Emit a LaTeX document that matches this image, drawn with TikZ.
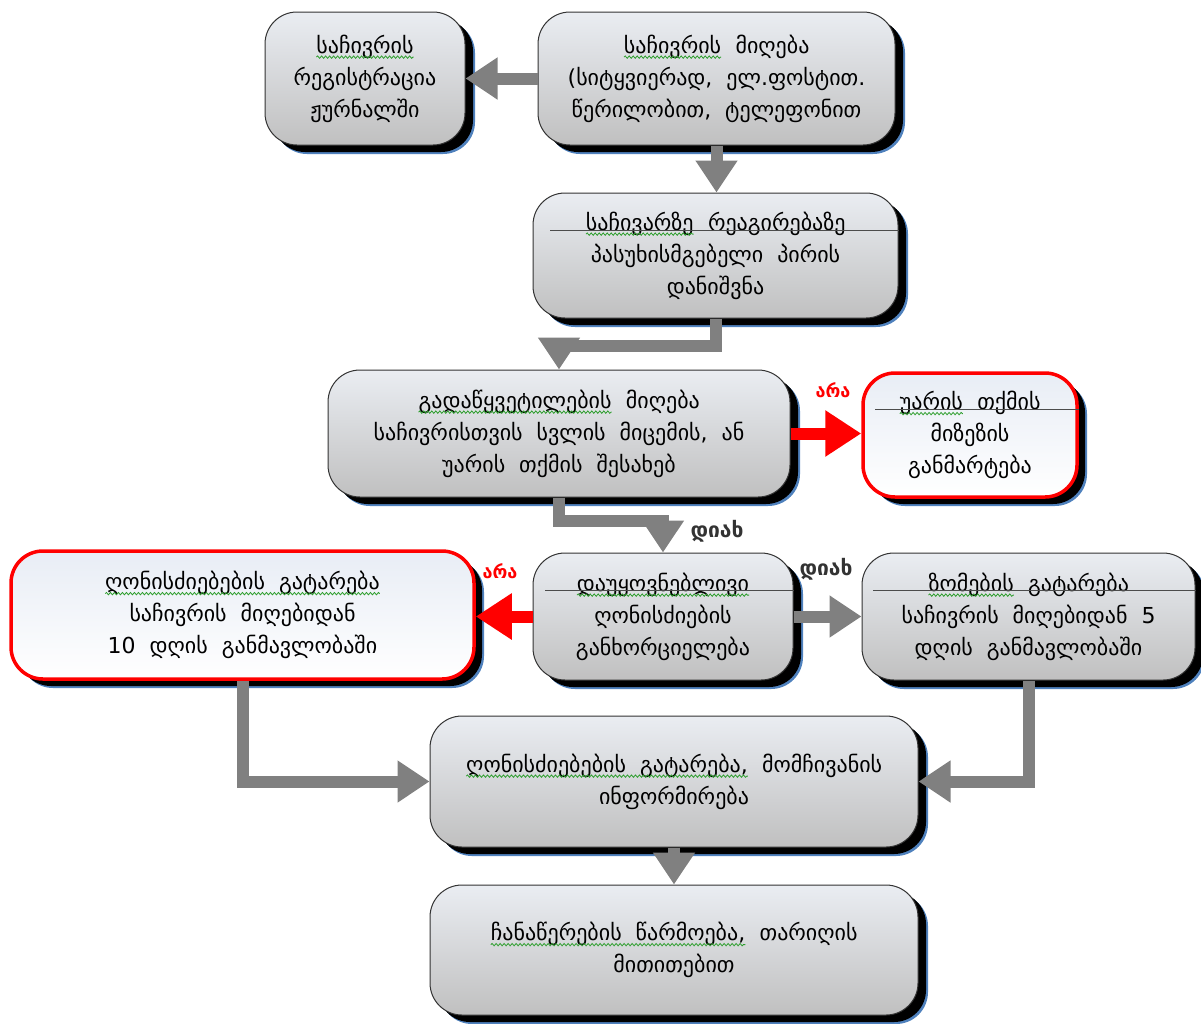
\documentclass[tikz,border=0pt]{standalone}
\usepackage{fontspec}
\setmainfont{DejaVu Sans}
\usetikzlibrary{arrows.meta,shadows,decorations.pathmorphing}
\definecolor{arrgray}{HTML}{808080}
\definecolor{shblue}{HTML}{4F81BD}
\definecolor{spellgreen}{HTML}{2E9E2E}
\newcommand\gw[1]{\tikz[baseline=(gwt.base)]{\node[inner sep=0pt, outer sep=0pt, minimum width=0pt, minimum height=0pt, draw=none, fill=none, rectangle, rounded corners=0pt] (gwt) {#1};
  \draw[spellgreen, line width=0.8pt, rounded corners=0pt, decorate, decoration={snake, amplitude=1.2pt, segment length=4pt}] ([yshift=-4pt]gwt.base west) -- ([yshift=-4pt]gwt.base east);}}
\tikzset{
  base/.style={rounded corners=32pt, align=center, inner sep=0pt,
    font=\fontsize{22}{32}\selectfont,
    drop shadow={shadow xshift=10pt, shadow yshift=-9pt, fill=shblue, opacity=1},
    drop shadow={shadow xshift=8pt, shadow yshift=-7pt, fill=black, opacity=1}},
  graybox/.style={base, draw=black!80, line width=1pt, top color={rgb,255:red,234;green,237;blue,242}, bottom color={rgb,255:red,192;green,192;blue,192}},
  redbox/.style={base, draw=red, line width=3.5pt, top color={rgb,255:red,232;green,237;blue,245}, bottom color=white},
  garrow/.style={draw=arrgray, line width=12pt, -{Triangle[length=32pt,width=40pt]}},
  rarrow/.style={draw=red, line width=12pt, -{Triangle[length=36pt,width=44pt]}},
  strike/.style={draw=black!70, line width=1pt},
  nolab/.style={text=red, font=\fontsize{18}{20}\selectfont\bfseries, inner sep=0pt},
  yeslab/.style={text=black!80, font=\fontsize{21}{23}\selectfont\bfseries, inner sep=0pt}
}
\begin{document}
\begin{tikzpicture}[x=1pt,y=-1pt]
\useasboundingbox (0,0) rectangle (1201,1023);

\node[graybox, minimum width=200pt, minimum height=133pt] (reg) at (365,78.5)
  {\gw{საჩივრის}\\რეგისტრაცია\\ჟურნალში};
\node[graybox, minimum width=357pt, minimum height=133pt] (rec) at (716.5,78.5)
  {\gw{საჩივრის}~~მიღება\\(სიტყვიერად,~~ელ.ფოსტით.\\წერილობით,~~ტელეფონით};
\node[graybox, minimum width=365pt, minimum height=125pt] (asg) at (715.5,255.5)
  {\gw{საჩივარზე}~~რეაგირებაზე\\პასუხისმგებელი~~პირის\\დანიშვნა};
\node[graybox, minimum width=462pt, minimum height=127pt] (dec) at (559,433.5)
  {\gw{გადაწყვეტილების}~~მიღება\\საჩივრისთვის~~სვლის~~მიცემის,~~ან\\უარის~~თქმის~~შესახებ};
\node[redbox, minimum width=214pt, minimum height=124pt] (ref) at (970,435)
  {\gw{უარის}~~თქმის\\მიზეზის\\განმარტება};
\node[graybox, minimum width=260pt, minimum height=127pt] (imm) at (663,616.5)
  {\gw{დაუყოვნებლივი}\\ღონისძიების\\განხორციელება};
\node[redbox, minimum width=463pt, minimum height=128pt] (ten) at (242.5,615)
  {\gw{ღონისძიებების~~გატარება}\\საჩივრის~~მიღებიდან\\10~~დღის~~განმავლობაში};
\node[graybox, minimum width=333pt, minimum height=127pt] (five) at (1028.5,616.5)
  {\gw{ზომების}~~გატარება\\საჩივრის~~მიღებიდან~~5\\დღის~~განმავლობაში};
\node[graybox, minimum width=488pt, minimum height=131pt] (inf) at (674,781.5)
  {\gw{ღონისძიებების~~გატარება,}~~მომჩივანის\\ინფორმირება};
\node[graybox, minimum width=488pt, minimum height=130pt] (rcd) at (674,950)
  {\gw{ჩანაწერების~~წარმოება,}~~თარიღის\\მითითებით};

% strike-like lines across some boxes
\draw[strike] (550,230) -- (asg.east |- 0,230);
\draw[strike] (875,409) -- (ref.east |- 0,409);
\draw[strike] (545,590) -- (imm.east |- 0,590);
\draw[strike] (873,590) -- (five.east |- 0,590);

% connectors
\draw[garrow] (rec.west) -- (reg.east);
\draw[garrow] (rec.south) -- (rec.south |- asg.north);
\draw[garrow] (asg.south) -- ++(0,27) -| (dec.north);
\draw[garrow] (dec.south) -- ++(0,23) -| (imm.north);
\draw[rarrow] (dec.east) -- (dec.east -| ref.west);
\draw[rarrow] (imm.west) -- (imm.west -| ten.east);
\draw[garrow] (imm.east) -- (imm.east -| five.west);
\draw[garrow] (ten.south) |- (inf.west);
\draw[garrow] (five.south) |- (inf.east);
\draw[garrow] (inf.south) -- (rcd.north);

% labels
\node[nolab] (l1) at (833,390) {არა};
\node[yeslab] (l2) at (717,531) {დიახ};
\node[nolab] (l3) at (500,571) {არა};
\node[yeslab] (l4) at (826,569) {დიახ};
\end{tikzpicture}
\end{document}
